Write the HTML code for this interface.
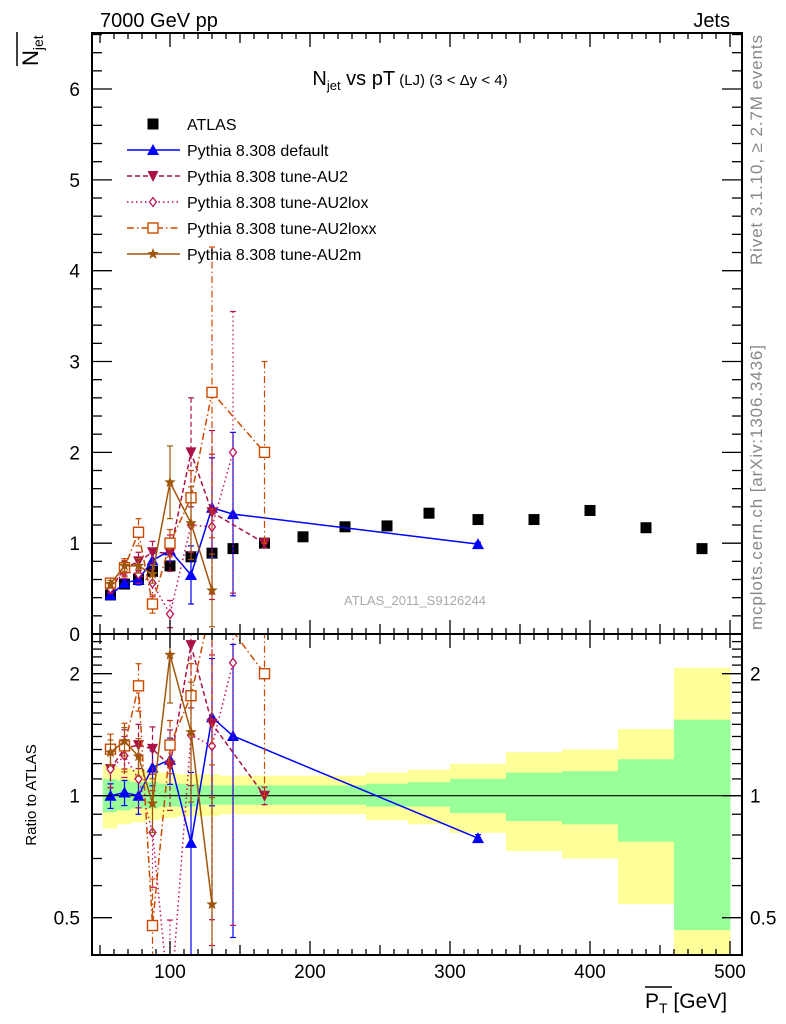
<!DOCTYPE html>
<html><head><meta charset="utf-8"><style>
html,body{margin:0;padding:0;background:#fff;width:786px;height:1024px;overflow:hidden;}
svg{display:block;font-family:"Liberation Sans",sans-serif;}
</style></head><body>
<svg id="c" width="786" height="1024" viewBox="0 0 786 1024" xmlns="http://www.w3.org/2000/svg">
<text x="100" y="27" font-size="20">7000 GeV pp</text>
<text x="730" y="27" font-size="20" text-anchor="end">Jets</text>
<g transform="translate(38,66) rotate(-90)">
<text x="0" y="0" font-size="22">N<tspan font-size="14" dy="5">jet</tspan></text>
<line x1="0" y1="-21" x2="34" y2="-21" stroke="#000" stroke-width="1.5"/></g>
<text x="410" y="85" font-size="20" text-anchor="middle">N<tspan font-size="13" dy="5">jet</tspan><tspan dy="-5"> vs pT</tspan><tspan font-size="15"> (LJ) (3 &lt; Δy &lt; 4)</tspan></text>
<text x="0" y="0" font-size="17" fill="#888" transform="translate(762,265) rotate(-90)" textLength="230">Rivet 3.1.10, ≥ 2.7M events</text>
<text x="0" y="0" font-size="17" fill="#888" transform="translate(762,630) rotate(-90)" textLength="285">mcplots.cern.ch [arXiv:1306.3436]</text>
<text x="415" y="605" font-size="13" fill="#aaa" text-anchor="middle">ATLAS_2011_S9126244</text>
<text x="0" y="0" font-size="15" text-anchor="middle" transform="translate(36,795) rotate(-90)">Ratio to ATLAS</text>
<g><text x="645" y="1008" font-size="21">P<tspan font-size="14" dy="5">T</tspan><tspan dy="-5"> [GeV]</tspan></text>
<line x1="645" y1="987" x2="672" y2="987" stroke="#000" stroke-width="1.5"/></g>
<g id="g"></g>
</svg>
<script>
const atlasX=[57.5,67.5,77.5,87.5,100,115,130,145,167.5,195,225,255,285,320,360,400,440,480];
const atlasY=[0.43,0.55,0.6,0.69,0.75,0.85,0.89,0.94,1.0,1.07,1.18,1.19,1.33,1.26,1.26,1.36,1.17,0.94];
const binEdges=[52,62,72,82,92,105,120,135,150,180,240,270,300,340,380,420,460,500];
const bandYellowHi=[1.19,1.17,1.16,1.15,1.14,1.13,1.13,1.12,1.12,1.12,1.14,1.16,1.2,1.28,1.3,1.46,2.07];
const bandYellowLo=[0.83,0.85,0.86,0.87,0.88,0.89,0.89,0.9,0.9,0.9,0.87,0.85,0.81,0.73,0.7,0.54,0.3];
const bandGreenHi=[1.1,1.09,1.08,1.08,1.07,1.07,1.06,1.06,1.06,1.06,1.07,1.08,1.1,1.14,1.15,1.23,1.54];
const bandGreenLo=[0.91,0.92,0.93,0.93,0.94,0.94,0.95,0.95,0.95,0.95,0.94,0.94,0.906,0.866,0.85,0.77,0.466];
const defX=[57.5,67.5,77.5,87.5,100,115,130,145,320];
const defY=[0.43,0.56,0.6,0.81,0.92,0.65,1.39,1.32,0.99];
const defE=[0.03,0.04,0.06,0.08,0.12,0.32,0.55,0.9,0.02];
const au2X=[57.5,67.5,77.5,87.5,100,115,130,167.5];
const au2Y=[0.5,0.72,0.8,0.9,0.89,2.0,1.34,1.0];
const au2E=[0.05,0.08,0.1,0.12,0.2,0.6,0.9,0.05];
const loxX=[57.5,67.5,77.5,87.5,100,115,130,145];
const loxY=[0.5,0.69,0.66,0.56,0.22,1.2,1.18,2.0];
const loxE=[0.05,0.08,0.1,0.15,0.15,0.3,0.8,1.55];
const loxxX=[57.5,67.5,77.5,87.5,100,115,130,167.5];
const loxxY=[0.56,0.73,1.12,0.33,1.0,1.5,2.66,2.0];
const loxxE=[0.05,0.1,0.15,0.1,0.15,0.3,1.6,1.0];
const au2mX=[57.5,67.5,77.5,87.5,100,115,130];
const au2mY=[0.55,0.75,0.75,0.66,1.67,1.22,0.48];
const au2mE=[0.04,0.06,0.08,0.1,0.4,0.4,0.4];
const xTicks=[100,200,300,400,500];
const yTicks=[0,1,2,3,4,5,6];
const rTicks=[0.5,1,2];

const NS="http://www.w3.org/2000/svg";
const G=document.getElementById('g');
const L=92,R=742,T=33,MB=634,RB=955;
const X=v=>30+1.4*v;
const Y=v=>634-90.83*v;
const RY=r=>795.7-122*Math.log2(r);
function mk(t,a,p){const e=document.createElementNS(NS,t);for(const k in a)e.setAttribute(k,a[k]);(p||G).appendChild(e);return e;}
const defs=mk('defs',{});
const c1=mk('clipPath',{id:'cm'},defs);mk('rect',{x:L,y:T,width:R-L,height:MB-T},c1);
const c2=mk('clipPath',{id:'cr'},defs);mk('rect',{x:L,y:MB,width:R-L,height:RB-MB},c2);
const gm=mk('g',{'clip-path':'url(#cm)'});


const gr=mk('g',{'clip-path':'url(#cr)'});


for(let i=0;i<bandYellowHi.length;i++){
 const x0=X(binEdges[i]),x1=X(binEdges[i+1]);
 let r=mk('rect',{x:x0,y:RY(bandYellowHi[i]),width:x1-x0+0.5,height:RY(bandYellowLo[i])-RY(bandYellowHi[i]),fill:'#ffff99'},gr);
 
 
 r=mk('rect',{x:x0,y:RY(bandGreenHi[i]),width:x1-x0+0.5,height:RY(bandGreenLo[i])-RY(bandGreenHi[i]),fill:'#99ff99'},gr);
 
 
}
let ln=mk('line',{x1:L,x2:R,y1:RY(1),y2:RY(1),stroke:'#000','stroke-width':1.2},gr);


function marker(p,type,x,y,col){
 let e;
 if(type==='sq')e=mk('rect',{x:x-5.5,y:y-5.5,width:11,height:11,fill:'#000'},p);
 else if(type==='tri')e=mk('polygon',{points:`${x},${y-6} ${x-6},${y+5} ${x+6},${y+5}`,fill:col},p);
 else if(type==='tdn')e=mk('polygon',{points:`${x},${y+6} ${x-5.5},${y-5} ${x+5.5},${y-5}`,fill:col},p);
 else if(type==='dia')e=mk('polygon',{points:`${x},${y-4.5} ${x-3.5},${y} ${x},${y+4.5} ${x+3.5},${y}`,fill:'#fff',stroke:col,'stroke-width':1.3},p);
 else if(type==='osq')e=mk('rect',{x:x-5,y:y-5,width:10,height:10,fill:'#fff',stroke:col,'stroke-width':1.4},p);
 else if(type==='star'){let pts=[];for(let k=0;k<10;k++){const a=-Math.PI/2+k*Math.PI/5,rr=k%2?2.5:6;pts.push((x+rr*Math.cos(a))+','+(y+rr*Math.sin(a)));}e=mk('polygon',{points:pts.join(' '),fill:col},p);}
 return e;
}
const series=[
 {n:'pythia-default',xs:defX,ys:defY,es:defE,col:'#0000ff',m:'tri',d:'',w:1.5},
 {n:'pythia-au2',xs:au2X,ys:au2Y,es:au2E,col:'#aa1146',m:'tdn',d:'5,3',w:1.5},
 {n:'pythia-au2lox',xs:loxX,ys:loxY,es:loxE,col:'#c0105a',m:'dia',d:'1.5,3',w:1.5},
 {n:'pythia-au2loxx',xs:loxxX,ys:loxxY,es:loxxE,col:'#cc4a00',m:'osq',d:'7,3,1.5,3',w:1.5},
 {n:'pythia-au2m',xs:au2mX,ys:au2mY,es:au2mE,col:'#a0560a',m:'star',d:'',w:1.5},
];
function drawSeries(s,p,yf,ratio){
 const g=mk('g',{},p);
 
 
 const pts=[];
 s.xs.forEach((xv,i)=>{
  let y=s.ys[i],e=s.es[i];
  if(ratio){const a=atlasY[atlasX.indexOf(xv)];y=y/a;e=e/a;}
  const px=X(xv),py=yf(y);
  pts.push(px+','+py);
  const lo=Math.max(y-e,0.05);
  const eb=mk('line',{x1:px,x2:px,y1:yf(y+e),y2:yf(lo),stroke:s.col,'stroke-width':1.2,'stroke-dasharray':s.d},g);
  
  
  [y+e,lo].forEach(v=>{const c=mk('line',{x1:px-3,x2:px+3,y1:yf(v),y2:yf(v),stroke:s.col,'stroke-width':1.2},g);
   
   });
 });
 const pl=mk('polyline',{points:pts.join(' '),fill:'none',stroke:s.col,'stroke-width':s.w,'stroke-dasharray':s.d},g);
 
 
 s.xs.forEach((xv,i)=>{let y=s.ys[i];if(ratio)y=y/atlasY[atlasX.indexOf(xv)];
  const m=marker(g,s.m,X(xv),yf(y),s.col);
  
  });
}
const ga=mk('g',{},gm);


atlasX.forEach((xv,i)=>{const m=marker(ga,'sq',X(xv),Y(atlasY[i]));
 
 });
series.forEach(s=>{drawSeries(s,gm,Y,false);drawSeries(s,gr,RY,true);});
[[T,MB],[MB,RB]].forEach(([a,b],k)=>{const f=mk('rect',{x:L,y:a,width:R-L,height:b-a,fill:'none',stroke:'#000','stroke-width':2});
 
 });
function tk(x1,y1,x2,y2){mk('line',{x1,y1,x2,y2,stroke:'#000','stroke-width':1.3});}
for(let v=50;v<=500;v+=10){const px=X(v);if(px<L||px>R)continue;const big=v%100===0,h=big?14:(v%50===0?10:6);
 [T,MB].forEach(y=>tk(px,y,px,y+h));[MB,RB].forEach(y=>tk(px,y,px,y-h));}
xTicks.forEach(v=>{const t=mk('text',{x:X(v),y:978,'font-size':19,'text-anchor':'middle'});t.textContent=v;
 
 });
for(let v=0;v<=6.6;v=Math.round((v+0.2)*10)/10){const py=Y(v);const big=Math.abs(v-Math.round(v))<1e-6,h=big?20:10;tk(L,py,L+h,py);tk(R,py,R-h,py);}
yTicks.forEach(v=>{const t=mk('text',{x:80,y:Y(v)+7,'font-size':19,'text-anchor':'end'});t.textContent=v;
 
 });
[0.5,0.6,0.7,0.8,0.9,1,1.1,1.2,1.3,1.4,1.5,1.6,1.7,1.8,1.9,2,2.1,2.2,2.3,2.4].forEach(v=>{const py=RY(v);if(py<MB||py>RB)return;const big=rTicks.includes(v),h=big?20:10;tk(L,py,L+h,py);tk(R,py,R-h,py);});
rTicks.forEach(v=>{[[80,'end'],[750,'start']].forEach(([x,a])=>{const t=mk('text',{x:x,y:RY(v)+7,'font-size':19,'text-anchor':a});t.textContent=v;
 
 });});
const labels=['ATLAS','Pythia 8.308 default','Pythia 8.308 tune-AU2','Pythia 8.308 tune-AU2lox','Pythia 8.308 tune-AU2loxx','Pythia 8.308 tune-AU2m'];
labels.forEach((lab,i)=>{const y=124+i*26;const g=mk('g',{});
 
 
 if(i===0)marker(g,'sq',153,y);else{const s=series[i-1];mk('line',{x1:127,x2:180,y1:y,y2:y,stroke:s.col,'stroke-width':1.5,'stroke-dasharray':s.d},g);marker(g,s.m,153,y,s.col);}
 const t=mk('text',{x:187,y:y+6,'font-size':16},g);t.textContent=lab;});
</script>
</body></html>
